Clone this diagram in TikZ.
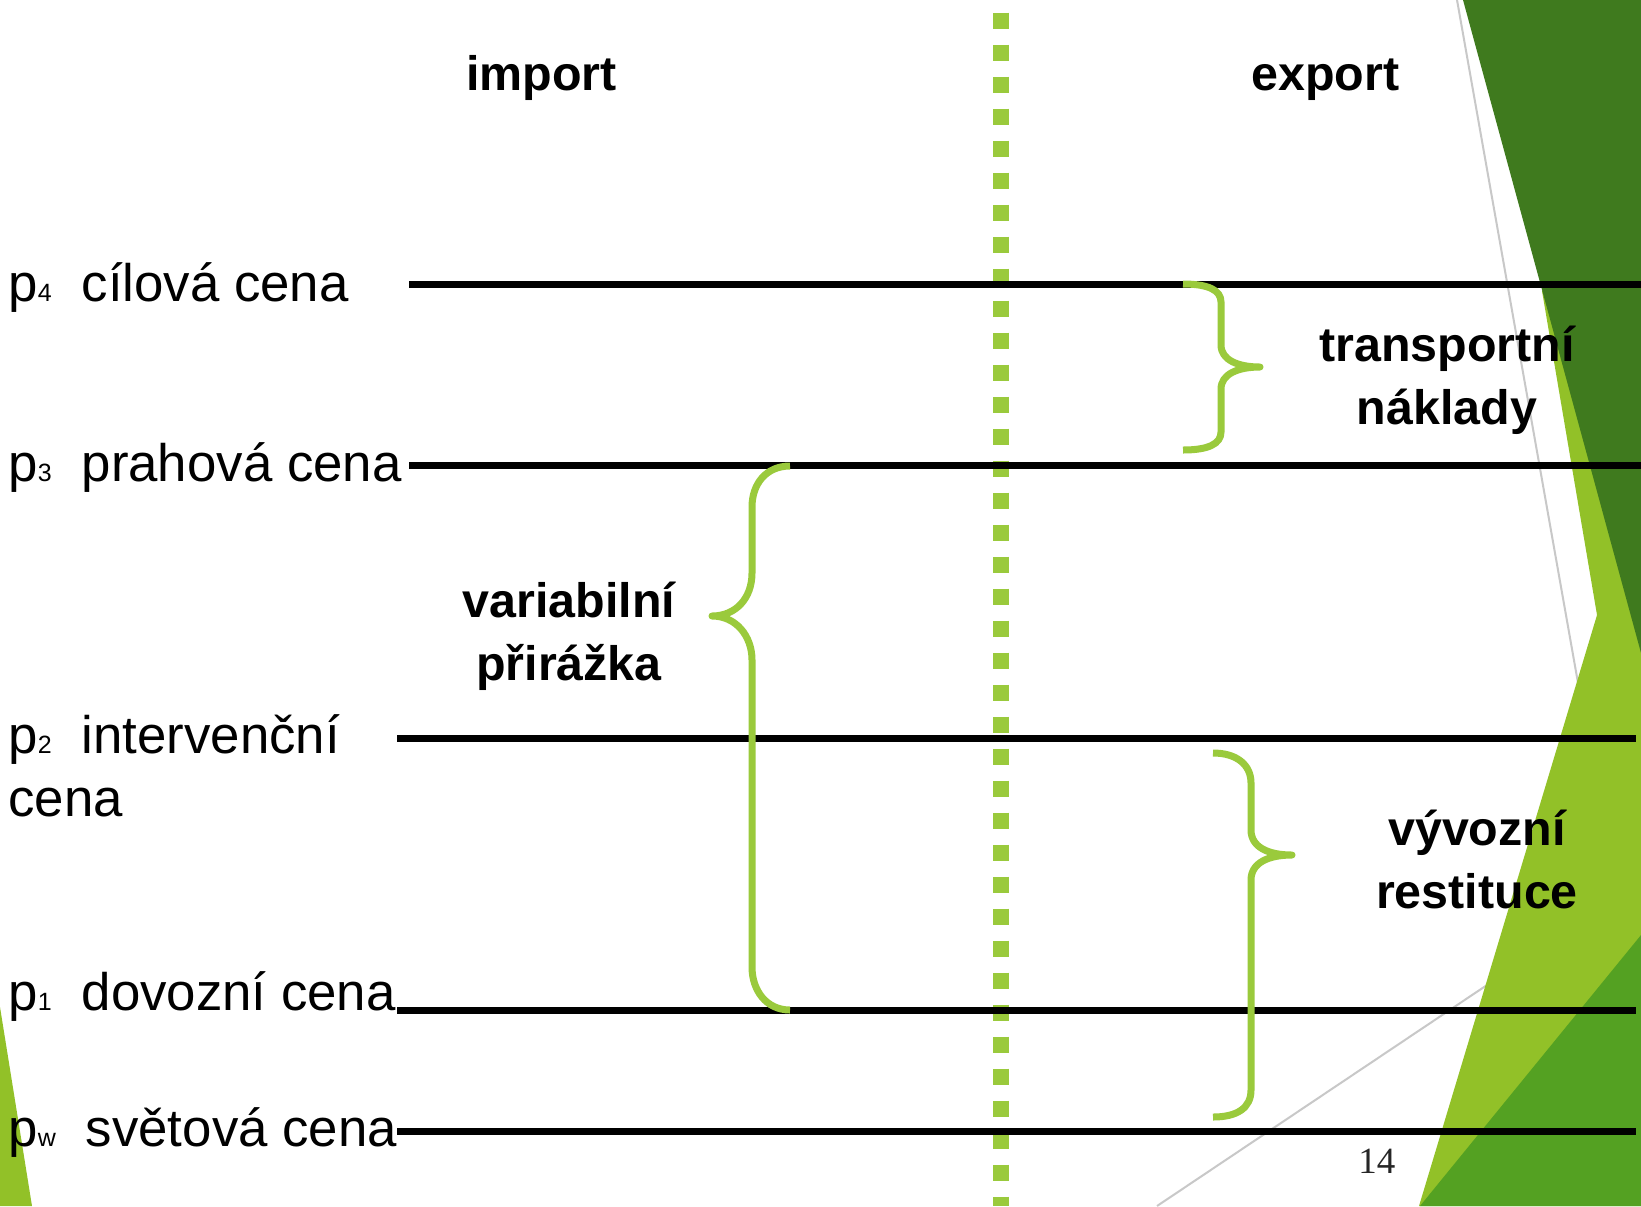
\documentclass[tikz,border=0pt]{standalone}
\usepackage{fontspec}
\setmainfont{Liberation Sans}
\newfontfamily\slidenum{Liberation Serif}
\usepackage{tikz}
\usetikzlibrary{positioning}

\definecolor{leafdark}{RGB}{63,122,30}
\definecolor{leaflight}{RGB}{146,193,40}
\definecolor{leafmid}{RGB}{84,161,34}
\definecolor{leafbrace}{RGB}{154,202,60}
\definecolor{thingray}{RGB}{200,200,200}

% small index after p
\newcommand{\pidx}[1]{{\fontsize{12.5}{15}\selectfont #1}\hspace{15pt}}

\begin{document}
\begin{tikzpicture}[
    x=0.5pt,y=-0.5pt,
    level/.style={line width=3.5pt,draw=black},
    bracket/.style={line width=3.5pt,draw=leafbrace,line join=round},
    divider/.style={line width=8pt,draw=leafbrace,dash pattern=on 8pt off 8pt},
    trim/.style={draw=thingray,line width=1pt},
    price/.style={anchor=base west,inner sep=0pt,font=\fontsize{26.4}{31.2}\selectfont},
    side/.style={anchor=base,inner sep=0pt,font=\bfseries\fontsize{24.2}{31.5}\selectfont},
    note/.style={anchor=base,align=center,inner sep=0pt,font=\bfseries\fontsize{24.2}{31.5}\selectfont}
]
    \useasboundingbox (0,0) rectangle (1641,1206);
    \fill[white] (0,0) rectangle (1641,1206);

    % slide decoration
    \draw[trim] (1457,0) -- (1578,683);
    \draw[trim] (1157,1206) -- (1490,983);
    \fill[leaflight] (1542,291) -- (1597,615) -- (1419,1206) -- (1641,1206) -- (1641,291) -- cycle;
    \fill[leafmid] (1641,935) -- (1641,1206) -- (1420,1206) -- cycle;
    \fill[leafdark] (1463,0) -- (1641,0) -- (1641,653) -- cycle;
    \fill[leaflight] (0,1007) -- (32,1206) -- (0,1206) -- cycle;

    % import / export divider
    \coordinate (top) at (1001,12.7);
    \coordinate (bot) at (1001,1206);
    \draw[divider] (top) -- (bot);

    % price levels
    \coordinate (l4a) at (409,284);   \coordinate (l4b) at (1641,284);
    \coordinate (l3a) at (409,465);   \coordinate (l3b) at (1641,465);
    \coordinate (l2a) at (397,738);   \coordinate (l2b) at (1636,738);
    \coordinate (l1a) at (397,1010);  \coordinate (l1b) at (1636,1010);
    \coordinate (lwa) at (397,1131);  \coordinate (lwb) at (1636,1131);
    \draw[level] (l4a) -- (l4b);
    \draw[level] (l3a) -- (l3b);
    \draw[level] (l2a) -- (l2b);
    \draw[level] (l1a) -- (l1b);
    \draw[level] (lwa) -- (lwb);

    % braces
    \draw[bracket] (1183,284) .. controls (1208,284) and (1221,290) .. (1221,302) -- (1221,345)
        .. controls (1221,360) and (1238,367) .. (1260,367)
        .. controls (1238,367) and (1221,374) .. (1221,389) -- (1221,432)
        .. controls (1221,444) and (1208,450) .. (1183,450);
    \draw[bracket] (790,466) .. controls (766,466) and (752,484) .. (752,507) -- (752,573)
        .. controls (752,598) and (736,616) .. (712,616)
        .. controls (736,616) and (752,636) .. (752,660) -- (752,967)
        .. controls (752,990) and (766,1010) .. (790,1010);
    \draw[bracket] (1213,753) .. controls (1237,753) and (1251,765) .. (1251,783) -- (1251,830)
        .. controls (1251,847) and (1268,855) .. (1292,855)
        .. controls (1268,855) and (1251,863) .. (1251,880) -- (1251,1090)
        .. controls (1251,1108) and (1237,1117) .. (1213,1117);

    % texts (two-line nodes sit on their last baseline)
    \node[side] (imp) at (541.6,90) {import};
    \node[side] (exp) at (1325.5,90) {export};
    \node[price] (p4) at (8,301) {p\pidx{4}cílová cena};
    \node[price] (p3) at (8,481) {p\pidx{3}prahová cena};
    \node[price,align=left] (p2) at (8,816) {p\pidx{2}intervenční\\cena};
    \node[price] (p1) at (8,1010) {p\pidx{1}dovozní cena};
    \node[price] (pw) at (8,1146) {p\pidx{w}světová cena};
    \node[note] (tn) at (1447,424) {transportní\\náklady};
    \node[note] (vp) at (569,680) {variabilní\\přirážka};
    \node[note] (vr) at (1477,908.5) {vývozní\\restituce};
    \node[anchor=base west,inner sep=0pt,font=\slidenum\fontsize{18.5}{20}\selectfont,text=black!85] (pg) at (1358,1173) {14};
\end{tikzpicture}
\end{document}
